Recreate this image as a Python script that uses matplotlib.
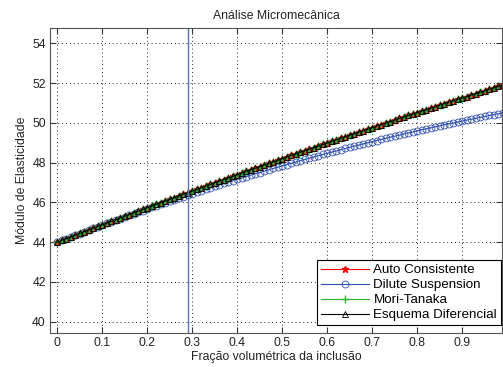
import numpy as np
import matplotlib
matplotlib.use('Agg')
import matplotlib.pyplot as plt

plt.rcParams['font.family'] = ['Liberation Sans', 'DejaVu Sans']

# volume fraction of inclusion, steps of 0.01
frac = np.round(np.arange(100) * 0.01, 2)

auto_vals = [
    44.00, 44.09, 44.18, 44.26, 44.35, 44.44, 44.53, 44.61, 44.70, 44.79,
    44.87, 44.96, 45.05, 45.13, 45.22, 45.31, 45.39, 45.48, 45.56, 45.65,
    45.73, 45.82, 45.90, 45.99, 46.07, 46.15, 46.24, 46.32, 46.41, 46.49,
    46.57, 46.65, 46.74, 46.82, 46.90, 46.99, 47.07, 47.15, 47.23, 47.31,
    47.39, 47.48, 47.56, 47.64, 47.72, 47.80, 47.88, 47.96, 48.04, 48.12,
    48.20, 48.28, 48.36, 48.44, 48.52, 48.60, 48.68, 48.75, 48.83, 48.91,
    48.99, 49.07, 49.14, 49.22, 49.30, 49.38, 49.45, 49.53, 49.61, 49.68,
    49.76, 49.84, 49.91, 49.99, 50.06, 50.14, 50.22, 50.29, 50.37, 50.44,
    50.51, 50.59, 50.66, 50.74, 50.81, 50.89, 50.96, 51.03, 51.11, 51.18,
    51.25, 51.32, 51.40, 51.47, 51.54, 51.61, 51.69, 51.76, 51.83, 51.90,
]
dilute_vals = [
    44.00, 44.09, 44.18, 44.26, 44.35, 44.43, 44.52, 44.61, 44.69, 44.77,
    44.86, 44.94, 45.02, 45.11, 45.19, 45.27, 45.35, 45.43, 45.51, 45.59,
    45.67, 45.75, 45.83, 45.91, 45.98, 46.06, 46.14, 46.21, 46.29, 46.36,
    46.44, 46.51, 46.59, 46.66, 46.73, 46.81, 46.88, 46.95, 47.02, 47.09,
    47.16, 47.23, 47.30, 47.37, 47.44, 47.50, 47.57, 47.64, 47.71, 47.77,
    47.84, 47.90, 47.97, 48.03, 48.10, 48.16, 48.22, 48.28, 48.35, 48.41,
    48.47, 48.53, 48.59, 48.65, 48.71, 48.77, 48.83, 48.88, 48.94, 49.00,
    49.05, 49.11, 49.17, 49.22, 49.28, 49.33, 49.38, 49.44, 49.49, 49.54,
    49.60, 49.65, 49.70, 49.75, 49.80, 49.85, 49.90, 49.95, 49.99, 50.04,
    50.09, 50.14, 50.18, 50.23, 50.28, 50.32, 50.37, 50.41, 50.45, 50.50,
]
# Mori-Tanaka and differential scheme lie on top of the self-consistent curve
mori_vals = list(auto_vals)
dif_vals = list(auto_vals)

marker_line = 0.29

fig = plt.figure(figsize=(5.03, 3.67), dpi=100)
ax = fig.add_axes([0.0994, 0.0918, 0.8986, 0.8327])

ax.plot(frac, auto_vals, color='red', marker='*', markersize=5, linewidth=0.8,
        label='Auto Consistente')
ax.plot(frac, dilute_vals, color='#3050b0', marker='o', markersize=5,
        markerfacecolor='none', markeredgewidth=0.6, linewidth=0.8,
        label='Dilute Suspension')
ax.plot(frac, mori_vals, color='#30b030', marker='+', markersize=5.5, linewidth=0.8,
        label='Mori-Tanaka')
ax.plot(frac, dif_vals, color='black', marker='^', markersize=4.5,
        markerfacecolor='none', markeredgewidth=0.6, linewidth=0.8,
        label='Esquema Diferencial')
ax.axvline(marker_line, color='#5a72b8', linewidth=1.0)

ax.set_xlim(-0.016, 0.988)
ax.set_ylim(39.42, 54.78)
ax.set_xticks(np.round(np.arange(10) * 0.1, 1))
ax.set_xticklabels(['0', '0.1', '0.2', '0.3', '0.4', '0.5', '0.6', '0.7', '0.8', '0.9'])
ax.set_yticks(range(40, 55, 2))
ax.grid(True, linestyle=(0, (1, 3)), color='#222222', linewidth=0.7)
ax.tick_params(direction='in', top=True, right=True, length=4, labelsize=8.8,
               colors='#333333', labelcolor='#222222', pad=3)
for s in ax.spines.values():
    s.set_color('#555555')

ax.set_title('Análise Micromecânica', fontsize=8.8, color='#222222', pad=6)
ax.set_xlabel('Fração volumétrica da inclusão', fontsize=8.8, color='#222222', labelpad=1)
ax.set_ylabel('Módulo de Elasticidade', fontsize=8.8, color='#222222', labelpad=3)

leg = ax.legend(loc='lower right', bbox_to_anchor=(0.998, 0.026), borderaxespad=0,
                fontsize=9.6, fancybox=False, edgecolor='black',
                framealpha=1, handlelength=3.6, labelspacing=0.2,
                handletextpad=0.3, borderpad=0.3)
leg.get_frame().set_linewidth(0.8)

fig.savefig('out.png', dpi=100)
